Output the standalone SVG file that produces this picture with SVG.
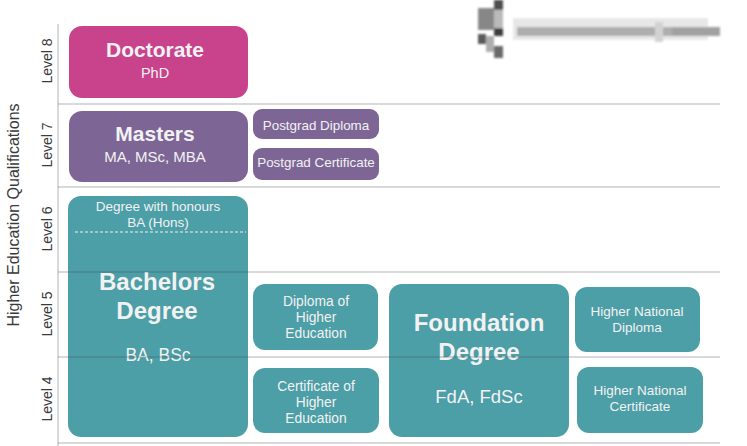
<svg xmlns="http://www.w3.org/2000/svg" width="747" height="446" viewBox="0 0 747 446">
<defs>
<filter id="soft" x="-10%" y="-10%" width="120%" height="120%"><feGaussianBlur stdDeviation="1.2"/></filter>
</defs>
<style>
.t{font-family:"Liberation Sans",Arial,sans-serif;fill:#f2f2f2;text-anchor:middle}
.b{font-weight:bold}
.lv{font-family:"Liberation Sans",Arial,sans-serif;fill:#3a3a3a;font-size:14px;text-anchor:middle}
.teal{fill:#4c9ea7}
.purp{fill:#7d6696}
.grid{stroke:#4a4a4a;stroke-opacity:0.28;stroke-width:1.5;fill:none}
</style>
<rect width="747" height="446" fill="#ffffff"/>
<g id="watermark" filter="url(#soft)" opacity="0.8">
<rect x="478" y="8" width="16" height="22" fill="#6a6a6a"/>
<rect x="494" y="0" width="9" height="10" fill="#222"/>
<rect x="494" y="10" width="9" height="18" fill="#aaa"/>
<rect x="494" y="28" width="9" height="8" fill="#111"/>
<rect x="478" y="34" width="8" height="10" fill="#333"/>
<rect x="486" y="36" width="8" height="16" fill="#999"/>
<rect x="494" y="46" width="9" height="12" fill="#444"/>
<rect x="513" y="18" width="195" height="22" fill="#e2e2e2"/>
<rect x="517" y="27" width="170" height="9" fill="#9a9a9a"/>
<rect x="655" y="22" width="8" height="20" fill="#c8c8c8"/>
<rect x="672" y="27" width="48" height="9" fill="#8a8a8a"/>
</g>
<g id="axis-labels">
<text class="lv" transform="translate(19,215) rotate(-90)" style="font-size:16px">Higher Education Qualifications</text>
<text class="lv" transform="translate(52,61) rotate(-90)">Level 8</text>
<text class="lv" transform="translate(52,145) rotate(-90)">Level 7</text>
<text class="lv" transform="translate(52,229) rotate(-90)">Level 6</text>
<text class="lv" transform="translate(52,314) rotate(-90)">Level 5</text>
<text class="lv" transform="translate(52,399) rotate(-90)">Level 4</text>
</g>
<g id="doctorate">
<rect x="69" y="26" width="179" height="72" rx="13" fill="#c8438b"/>
<text class="t b" x="155" y="57" font-size="21">Doctorate</text>
<text class="t" x="155" y="78" font-size="14.5">PhD</text>
</g>
<g id="masters">
<rect class="purp" x="69" y="111" width="179" height="71" rx="13"/>
<text class="t b" x="155" y="141" font-size="21">Masters</text>
<text class="t" x="155" y="162" font-size="15">MA, MSc, MBA</text>
</g>
<g id="postgrad-diploma">
<rect class="purp" x="253" y="109" width="126" height="30" rx="9"/>
<text class="t" x="316" y="130" font-size="13.4">Postgrad Diploma</text>
</g>
<g id="postgrad-certificate">
<rect class="purp" x="253" y="148" width="126" height="32" rx="9"/>
<text class="t" x="316" y="167" font-size="13.4">Postgrad Certificate</text>
</g>
<g id="bachelors">
<rect class="teal" x="68" y="196" width="180" height="241" rx="13"/>
<text class="t" x="158" y="211" font-size="13.5">Degree with honours</text>
<text class="t" x="158" y="227" font-size="13.5">BA (Hons)</text>
<line x1="75" y1="232" x2="246" y2="232" stroke="#f2f2f2" stroke-width="1" stroke-dasharray="3,2"/>
<text class="t b" x="157" y="290" font-size="24">Bachelors</text>
<text class="t b" x="157" y="319" font-size="24">Degree</text>
<text class="t" x="158" y="361" font-size="17.5">BA, BSc</text>
</g>
<g id="diploma-he">
<rect class="teal" x="253" y="284" width="125" height="66" rx="12"/>
<text class="t" x="316" y="306" font-size="13.8">Diploma of</text>
<text class="t" x="316" y="322" font-size="13.8">Higher</text>
<text class="t" x="316" y="338" font-size="13.8">Education</text>
</g>
<g id="certificate-he">
<rect class="teal" x="253" y="368" width="126" height="65" rx="12"/>
<text class="t" x="316" y="391" font-size="13.8">Certificate of</text>
<text class="t" x="316" y="407" font-size="13.8">Higher</text>
<text class="t" x="316" y="423" font-size="13.8">Education</text>
</g>
<g id="foundation">
<rect class="teal" x="389" y="284" width="180" height="153" rx="13"/>
<text class="t b" x="479" y="331" font-size="24">Foundation</text>
<text class="t b" x="479" y="360" font-size="24">Degree</text>
<text class="t" x="479" y="403" font-size="18.5">FdA, FdSc</text>
</g>
<g id="hnd">
<rect class="teal" x="575" y="287" width="125" height="65" rx="12"/>
<text class="t" x="637" y="316" font-size="13.5">Higher National</text>
<text class="t" x="637" y="332" font-size="13.5">Diploma</text>
</g>
<g id="hnc">
<rect class="teal" x="577" y="367" width="126" height="66" rx="12"/>
<text class="t" x="640" y="395" font-size="13.5">Higher National</text>
<text class="t" x="640" y="411" font-size="13.5">Certificate</text>
</g>
<g id="connectors" class="grid">
<line x1="58" y1="24" x2="58" y2="446"/>
<line x1="58" y1="104" x2="720" y2="104"/>
<line x1="58" y1="187" x2="720" y2="187"/>
<line x1="58" y1="272" x2="720" y2="272"/>
<line x1="58" y1="357" x2="720" y2="357"/>
<line x1="58" y1="443" x2="720" y2="443"/>
</g>
</svg>
